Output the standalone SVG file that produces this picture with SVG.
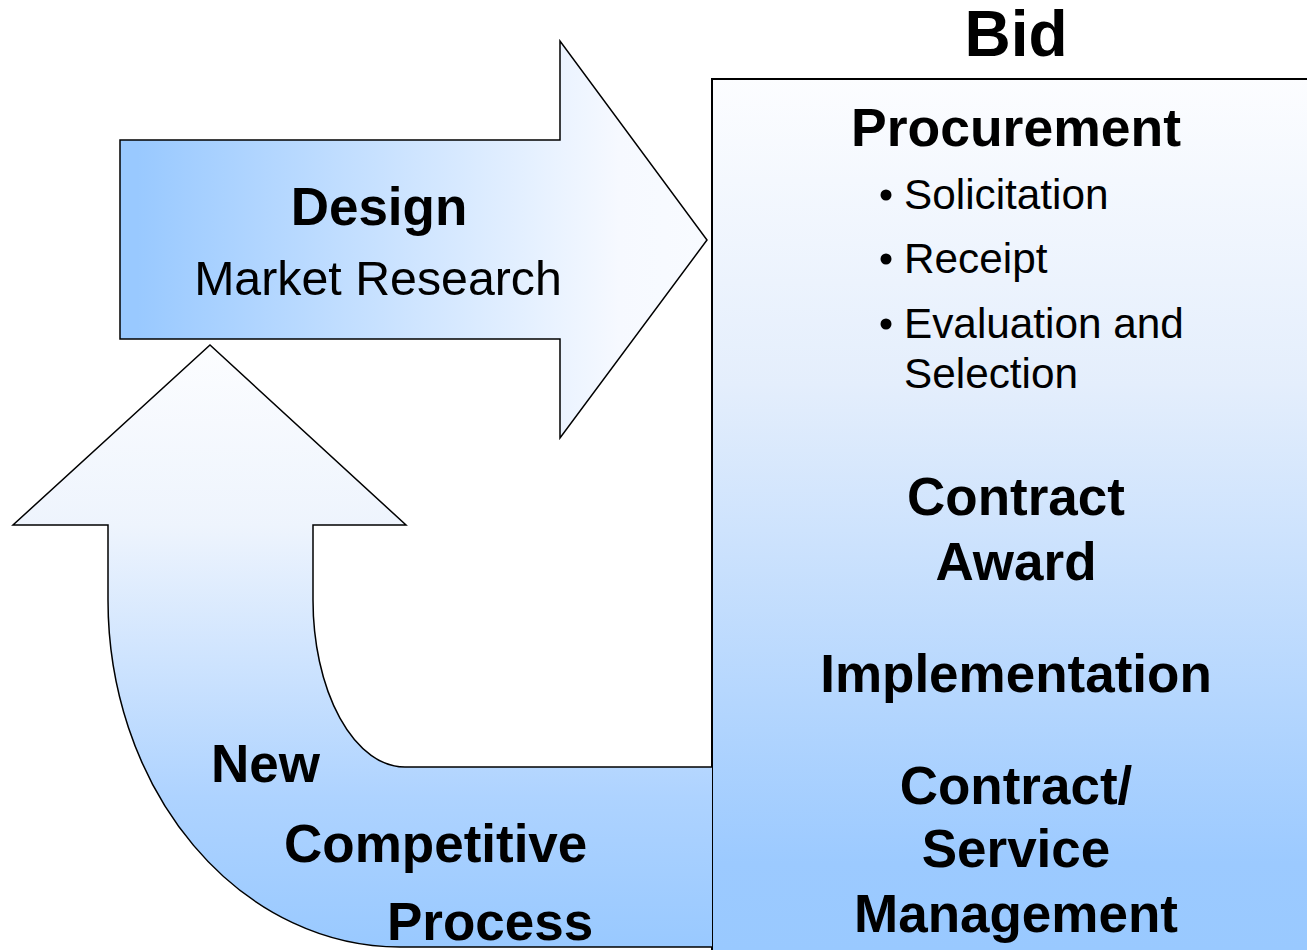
<svg xmlns="http://www.w3.org/2000/svg" width="1307" height="950" viewBox="0 0 1307 950">
  <defs>
    <linearGradient id="gradRight" x1="0" y1="0" x2="1" y2="0">
      <stop offset="0.03" stop-color="#99c9ff"/>
      <stop offset="0.85" stop-color="#f6f9ff"/>
      <stop offset="1" stop-color="#f8fbff"/>
    </linearGradient>
    <linearGradient id="gradBox" x1="0" y1="79" x2="0" y2="950" gradientUnits="userSpaceOnUse">
      <stop offset="0" stop-color="#fcfdff"/>
      <stop offset="0.35" stop-color="#e4eefc"/>
      <stop offset="0.9" stop-color="#9ccaff"/>
      <stop offset="1" stop-color="#99c9ff"/>
    </linearGradient>
    <linearGradient id="gradLoop" x1="0" y1="345" x2="0" y2="947" gradientUnits="userSpaceOnUse">
      <stop offset="0" stop-color="#fcfdff"/>
      <stop offset="0.3" stop-color="#eef4fd"/>
      <stop offset="0.75" stop-color="#aed3ff"/>
      <stop offset="1" stop-color="#99c9ff"/>
    </linearGradient>
  </defs>
  <style>
    .shape { stroke: #000; stroke-width: 1.5; stroke-linejoin: miter; }
    .box { stroke: #000; stroke-width: 2; }
    .bold { font-family: "Liberation Sans", Arial, sans-serif; font-weight: bold; fill: #000; }
    .reg { font-family: "Liberation Sans", Arial, sans-serif; fill: #000; }
  </style>

  <rect width="1307" height="950" fill="#ffffff"/>

  <!-- Bid stage box -->
  <g id="bid">
    <text class="bold" x="1016" y="56" font-size="64" text-anchor="middle">Bid</text>
    <rect class="box" x="712" y="79" width="600" height="880" fill="url(#gradBox)"/>
    <text class="bold" x="1016" y="146" font-size="53.5" text-anchor="middle">Procurement</text>
    <g class="reg" font-size="42.3">
      <circle cx="886" cy="195" r="5.5" fill="#000"/>
      <text x="904" y="209">Solicitation</text>
      <circle cx="886" cy="259" r="5.5" fill="#000"/>
      <text x="904" y="273">Receipt</text>
      <circle cx="886" cy="324" r="5.5" fill="#000"/>
      <text x="904" y="338">Evaluation and</text>
      <text x="904" y="388">Selection</text>
    </g>
    <g class="bold" font-size="53" text-anchor="middle">
      <text x="1016" y="515">Contract</text>
      <text x="1016" y="580">Award</text>
      <text x="1016" y="692">Implementation</text>
      <text x="1016" y="804">Contract/</text>
      <text x="1016" y="867">Service</text>
      <text x="1016" y="932">Management</text>
    </g>
  </g>

  <!-- connectors: the two block arrows -->
  <g id="connectors">
    <g id="design">
      <path class="shape" fill="url(#gradRight)" d="M120,140 L560,140 L560,41 L707,240 L560,438 L560,339 L120,339 Z"/>
      <text class="bold" x="379" y="225" font-size="53" text-anchor="middle">Design</text>
      <text class="reg" x="378" y="295" font-size="48.3" text-anchor="middle">Market Research</text>
    </g>
    <g id="new-process">
      <path class="shape" fill="url(#gradLoop)" d="M712,947 L400,947 A292,347 0 0 1 108,600 L108,525 L13,525 L210,345 L406,525 L313,525 L313,600 A92,167 0 0 0 405,767 L712,767"/>
      <g class="bold" font-size="53">
        <text x="211" y="782">New</text>
        <text x="284" y="862">Competitive</text>
        <text x="387" y="940">Process</text>
      </g>
    </g>
  </g>
</svg>
